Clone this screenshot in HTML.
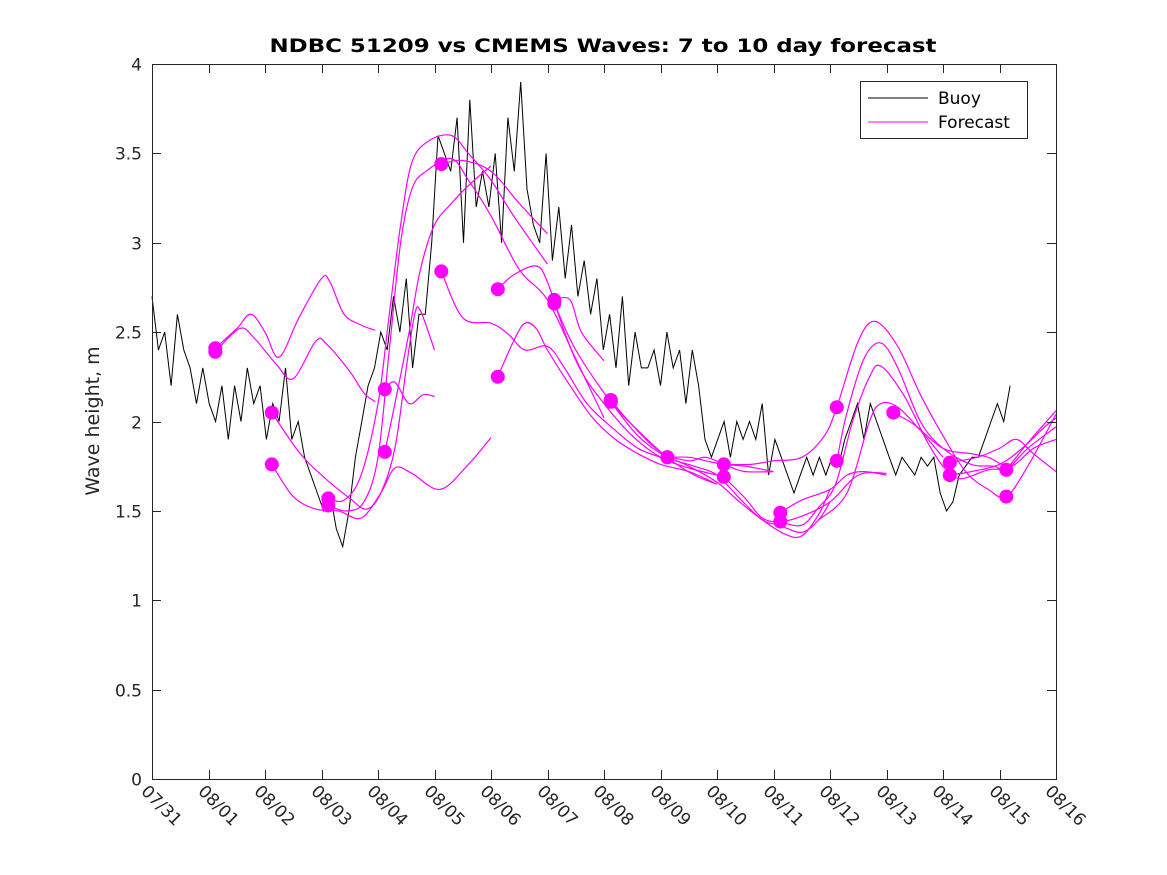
<!DOCTYPE html>
<html><head><meta charset="utf-8"><style>
html,body{margin:0;padding:0;background:#fff;}
svg{display:block;font-family:"DejaVu Sans","Liberation Sans",sans-serif;}
</style></head><body>
<svg id="chart" width="1167" height="875" viewBox="0 0 1167 875" xmlns="http://www.w3.org/2000/svg">
<rect x="0" y="0" width="1167" height="875" fill="#fff"/>
<text x="603" y="52" text-anchor="middle" font-size="19" font-weight="bold" textLength="667" lengthAdjust="spacingAndGlyphs">NDBC 51209 vs CMEMS Waves: 7 to 10 day forecast</text>
<text transform="translate(99,421) rotate(-90)" text-anchor="middle" font-size="19" fill="#262626">Wave height, m</text>
<g id="grid"></g>
<g id="marks"></g>
<g id="axes"></g>
<g>
<rect x="860.5" y="81.5" width="167" height="57" fill="#fff" stroke="#262626" stroke-width="1"/>
<line x1="868" y1="98" x2="928" y2="98" stroke="#000" stroke-width="1"/>
<text x="938" y="104" font-size="17" fill="#000">Buoy</text>
<line x1="868" y1="122" x2="928" y2="122" stroke="#ff00ff" stroke-width="1"/>
<text x="938" y="128" font-size="17" fill="#000">Forecast</text>
</g>
</svg>
<script>
const xTickLabels = ["07/31","08/01","08/02","08/03","08/04","08/05","08/06","08/07","08/08","08/09","08/10","08/11","08/12","08/13","08/14","08/15","08/16"];
const yTicks = [0,0.5,1,1.5,2,2.5,3,3.5,4];
const yTickLabels = ["0","0.5","1","1.5","2","2.5","3","3.5","4"];
const buoyStep = 0.1125;
const buoyVals = [2.7,2.4,2.5,2.2,2.6,2.4,2.3,2.1,2.3,
2.1,2.0,2.2,1.9,2.2,2.0,2.3,2.1,
2.2,1.9,2.1,2.0,2.3,1.9,2.0,1.8,1.7,
1.6,1.5,1.6,1.4,1.3,1.5,1.8,2.0,2.2,
2.3,2.5,2.4,2.7,2.5,2.8,2.3,2.6,2.6,
3.0,3.6,3.5,3.4,3.7,3.0,3.8,3.2,3.4,
3.2,3.5,3.0,3.7,3.4,3.9,3.3,3.1,
3.0,3.5,2.9,3.2,2.8,3.1,2.7,2.9,2.6,
2.8,2.4,2.6,2.3,2.7,2.2,2.5,2.3,2.3,
2.4,2.2,2.5,2.3,2.4,2.1,2.4,2.2,1.9,
1.8,1.9,2.0,1.8,2.0,1.9,2.0,1.9,2.1,
1.7,1.9,1.8,1.7,1.6,1.7,1.8,1.7,1.8,
1.7,1.8,1.75,1.9,2.0,2.1,1.9,2.1,2.0,
1.9,1.8,1.7,1.8,1.75,1.7,1.8,1.75,1.8,
1.6,1.5,1.55,1.7,1.75,1.8,1.8,1.9,2.0,
2.1,2.0,2.2];
const dotDays = [1.12,1.12,2.12,2.12,3.12,3.12,4.12,4.12,5.12,5.12,6.12,6.12,7.12,7.12,8.12,8.12,9.12,9.12,10.12,10.12,11.12,11.12,12.12,12.12,13.12,14.12,14.12,15.12,15.12];
const dotVals = [2.41,2.39,2.05,1.76,1.57,1.53,2.18,1.83,3.44,2.84,2.74,2.25,2.68,2.66,2.12,2.11,1.80,1.80,1.76,1.69,1.49,1.44,2.08,1.78,2.05,1.77,1.70,1.73,1.58];
const fc01 = [[1.12,2.41],[1.5,2.52],[1.75,2.60],[2.0,2.50],[2.25,2.36],[2.6,2.58],[3.0,2.80],[3.15,2.78],[3.4,2.60],[3.7,2.54],[3.95,2.51]];
const fc02 = [[1.12,2.39],[1.55,2.52],[1.8,2.47],[2.2,2.32],[2.5,2.24],[2.9,2.45],[3.1,2.43],[3.5,2.28],[3.75,2.16],[3.95,2.11]];
const fc03 = [[2.12,2.05],[2.6,1.83],[3.0,1.70],[3.5,1.57],[3.8,1.51],[4.05,1.60],[4.3,1.85],[4.5,2.3],[4.65,2.6],[4.75,2.62],[5.0,2.40]];
const fc04 = [[2.12,1.76],[2.5,1.58],[2.9,1.51],[3.3,1.50],[3.7,1.46],[4.05,1.60],[4.3,1.74],[4.6,1.71],[5.1,1.62],[5.6,1.76],[6.0,1.91]];
const fc05 = [[3.12,1.57],[3.4,1.56],[3.7,1.70],[4.0,2.10],[4.2,2.6],[4.4,3.1],[4.6,3.45],[4.9,3.57],[5.3,3.60],[5.6,3.50],[6.0,3.35],[6.4,3.15],[7.0,2.88]];
const fc06 = [[3.12,1.53],[3.45,1.50],[3.75,1.55],[4.0,1.80],[4.2,2.4],[4.4,3.0],[4.6,3.3],[4.85,3.40],[5.3,3.47],[5.6,3.35],[6.0,3.15],[6.5,2.85],[7.0,2.68],[7.5,2.35],[8.0,2.02]];
const fc07 = [[4.12,1.83],[4.3,2.1],[4.55,2.5],[4.75,2.85],[5.0,3.1],[5.3,3.22],[5.6,3.32],[6.0,3.43]];
const fc08 = [[4.12,2.18],[4.3,2.22],[4.55,2.10],[4.8,2.15],[5.0,2.14]];
const fc09 = [[5.12,3.44],[5.5,3.46],[6.0,3.40],[6.5,3.22],[7.0,3.05]];
const fc10 = [[5.12,2.84],[5.5,2.58],[6.0,2.55],[6.3,2.49],[6.6,2.40],[7.0,2.42],[7.3,2.30],[7.7,2.10],[8.2,1.95],[8.6,1.85],[9.0,1.80]];
const fc11 = [[6.12,2.74],[6.4,2.82],[6.8,2.87],[7.0,2.78],[7.3,2.50],[7.6,2.28],[8.0,2.10],[8.5,1.92],[9.0,1.80],[9.5,1.74],[10.0,1.70]];
const fc12 = [[6.12,2.25],[6.4,2.45],[6.6,2.55],[6.8,2.52],[7.0,2.40],[7.4,2.20],[7.8,2.02],[8.2,1.90],[8.6,1.82],[9.0,1.76],[9.5,1.72],[10.0,1.65]];
const fc13 = [[7.12,2.68],[7.4,2.68],[7.6,2.50],[8.0,2.34]];
const fc14 = [[7.12,2.66],[7.5,2.40],[8.12,2.11],[8.6,1.95],[9.12,1.80],[9.6,1.70],[10.0,1.65]];
const fc15 = [[8.12,2.12],[8.5,1.98],[9.0,1.83],[9.5,1.78],[9.8,1.80],[10.2,1.75],[10.5,1.72],[11.0,1.72]];
const fc16 = [[8.12,2.11],[8.6,1.92],[9.12,1.80],[9.6,1.75],[10.0,1.70],[10.4,1.57],[10.8,1.45],[11.1,1.42],[11.5,1.38],[11.8,1.45],[12.0,1.55]];
const fc17 = [[9.12,1.80],[9.5,1.80],[9.8,1.78],[10.12,1.76],[10.5,1.75],[11.0,1.72]];
const fc18 = [[9.12,1.80],[9.5,1.75],[10.0,1.66],[10.4,1.55],[10.8,1.45],[11.2,1.37],[11.5,1.36],[11.8,1.48],[12.0,1.62]];
const fc19 = [[10.12,1.76],[10.6,1.76],[11.0,1.78],[11.5,1.80],[11.9,1.92],[12.12,2.08],[12.5,2.45],[12.8,2.56],[13.2,2.42],[13.6,2.15],[14.0,1.92],[14.4,1.72],[14.8,1.62],[15.12,1.58],[15.5,1.75],[16.0,2.04]];
const fc20 = [[10.12,1.69],[10.5,1.57],[10.8,1.46],[11.12,1.44],[11.5,1.47],[12.0,1.55],[12.5,1.70],[13.0,1.71]];
const fc21 = [[11.12,1.49],[11.5,1.56],[12.0,1.62],[12.3,1.70],[12.6,1.72],[13.0,1.70]];
const fc22 = [[11.12,1.44],[11.5,1.42],[11.8,1.52],[12.1,1.65],[12.4,2.0],[12.7,2.25],[12.9,2.31],[13.3,2.15],[13.7,1.90],[14.0,1.75],[14.3,1.68],[14.8,1.73],[15.12,1.73]];
const fc23 = [[12.12,1.78],[12.3,2.05],[12.6,2.35],[12.9,2.44],[13.2,2.30],[13.6,2.0],[14.0,1.85],[14.5,1.76],[14.9,1.75],[15.12,1.73],[15.5,1.85],[16.0,1.97]];
const fc24 = [[11.8,1.45],[12.3,1.60],[12.7,2.0],[12.9,2.10],[13.2,2.08],[13.6,1.95],[14.0,1.80]];
const fc25 = [[13.12,2.05],[13.5,1.98],[14.0,1.85],[14.5,1.82],[14.8,1.80],[15.2,1.75],[15.6,1.85],[16.0,1.90]];
const fc26 = [[14.12,1.77],[14.6,1.80],[15.0,1.85],[15.3,1.90],[15.6,1.82],[16.0,1.72]];
const fc27 = [[14.12,1.70],[14.5,1.72],[15.0,1.76],[15.4,1.85],[15.8,1.97],[16.0,2.02]];
const fc28 = [[15.12,1.73],[15.5,1.88],[16.0,2.06]];
const forecasts = [fc01,fc02,fc03,fc04,fc05,fc06,fc07,fc08,fc09,fc10,fc11,fc12,fc13,fc14,fc15,fc16,fc17,fc18,fc19,fc20,fc21,fc22,fc23,fc24,fc25,fc26,fc27,fc28];

const NS = "http://www.w3.org/2000/svg";
const L = 152, R = 1056, T = 64, B = 779;
const dayMax = 16, vMax = 4;
function xS(d){ return L + d*(R-L)/dayMax; }
function yS(v){ return B - v*(B-T)/vMax; }
function mk(tag, attrs, parent){ const e = document.createElementNS(NS, tag); for (const k in attrs) e.setAttribute(k, attrs[k]); parent.appendChild(e); return e; }
function smoothPath(pts){
  let d = "M" + pts[0][0].toFixed(1) + "," + pts[0][1].toFixed(1);
  for (let i=0;i<pts.length-1;i++){
    const p0 = pts[Math.max(0,i-1)], p1 = pts[i], p2 = pts[i+1], p3 = pts[Math.min(pts.length-1,i+2)];
    const c1x = p1[0]+(p2[0]-p0[0])/6, c1y = p1[1]+(p2[1]-p0[1])/6;
    const c2x = p2[0]-(p3[0]-p1[0])/6, c2y = p2[1]-(p3[1]-p1[1])/6;
    d += " C"+c1x.toFixed(1)+","+c1y.toFixed(1)+" "+c2x.toFixed(1)+","+c2y.toFixed(1)+" "+p2[0].toFixed(1)+","+p2[1].toFixed(1);
  }
  return d;
}
const marks = document.getElementById("marks");
const axes = document.getElementById("axes");

let bd = "";
buoyVals.forEach((v,i)=>{ bd += (i? " L":"M") + xS(i*buoyStep).toFixed(1) + "," + yS(v).toFixed(1); });
const buoy = mk("path", {d: bd, fill:"none", stroke:"#000", "stroke-width":"1", "stroke-linejoin":"miter"}, marks);



forecasts.forEach((f,i)=>{
  const pts = f.map(p=>[xS(p[0]), yS(p[1])]);
  const p = mk("path", {d: smoothPath(pts), fill:"none", stroke:"#ff00ff", "stroke-width":"1.2"}, marks);
  
  
});
dotDays.forEach((d,i)=>{
  const c = mk("circle", {cx: xS(d).toFixed(1), cy: yS(dotVals[i]).toFixed(1), r: "7", fill:"#ff00ff"}, marks);
  
  
});

const box = mk("rect", {x:L+0.5, y:T+0.5, width:R-L, height:B-T, fill:"none", stroke:"#262626", "stroke-width":"1"}, axes);


yTicks.forEach((v,i)=>{
  const y = Math.round(yS(v))+0.5;
  const t1 = mk("line", {x1:L, y1:y, x2:L+9, y2:y, stroke:"#262626"}, axes);
  
  
  const t2 = mk("line", {x1:R-9, y1:y, x2:R, y2:y, stroke:"#262626"}, axes);
  
  
  const tx = mk("text", {x:L-10, y:y+6, "text-anchor":"end", "font-size":"17", fill:"#262626"}, axes);
  tx.textContent = yTickLabels[i];
  
  
});
xTickLabels.forEach((lab,i)=>{
  const x = Math.round(xS(i))+0.5;
  const t1 = mk("line", {x1:x, y1:B, x2:x, y2:B-9, stroke:"#262626"}, axes);
  
  
  const t2 = mk("line", {x1:x, y1:T, x2:x, y2:T+9, stroke:"#262626"}, axes);
  
  
  const tx = mk("text", {transform:"translate("+(x-8)+","+(788)+") rotate(45)", x:0, y:6, "font-size":"17", fill:"#262626"}, axes);
  tx.textContent = lab;
  
  
});
</script>
</body></html>
